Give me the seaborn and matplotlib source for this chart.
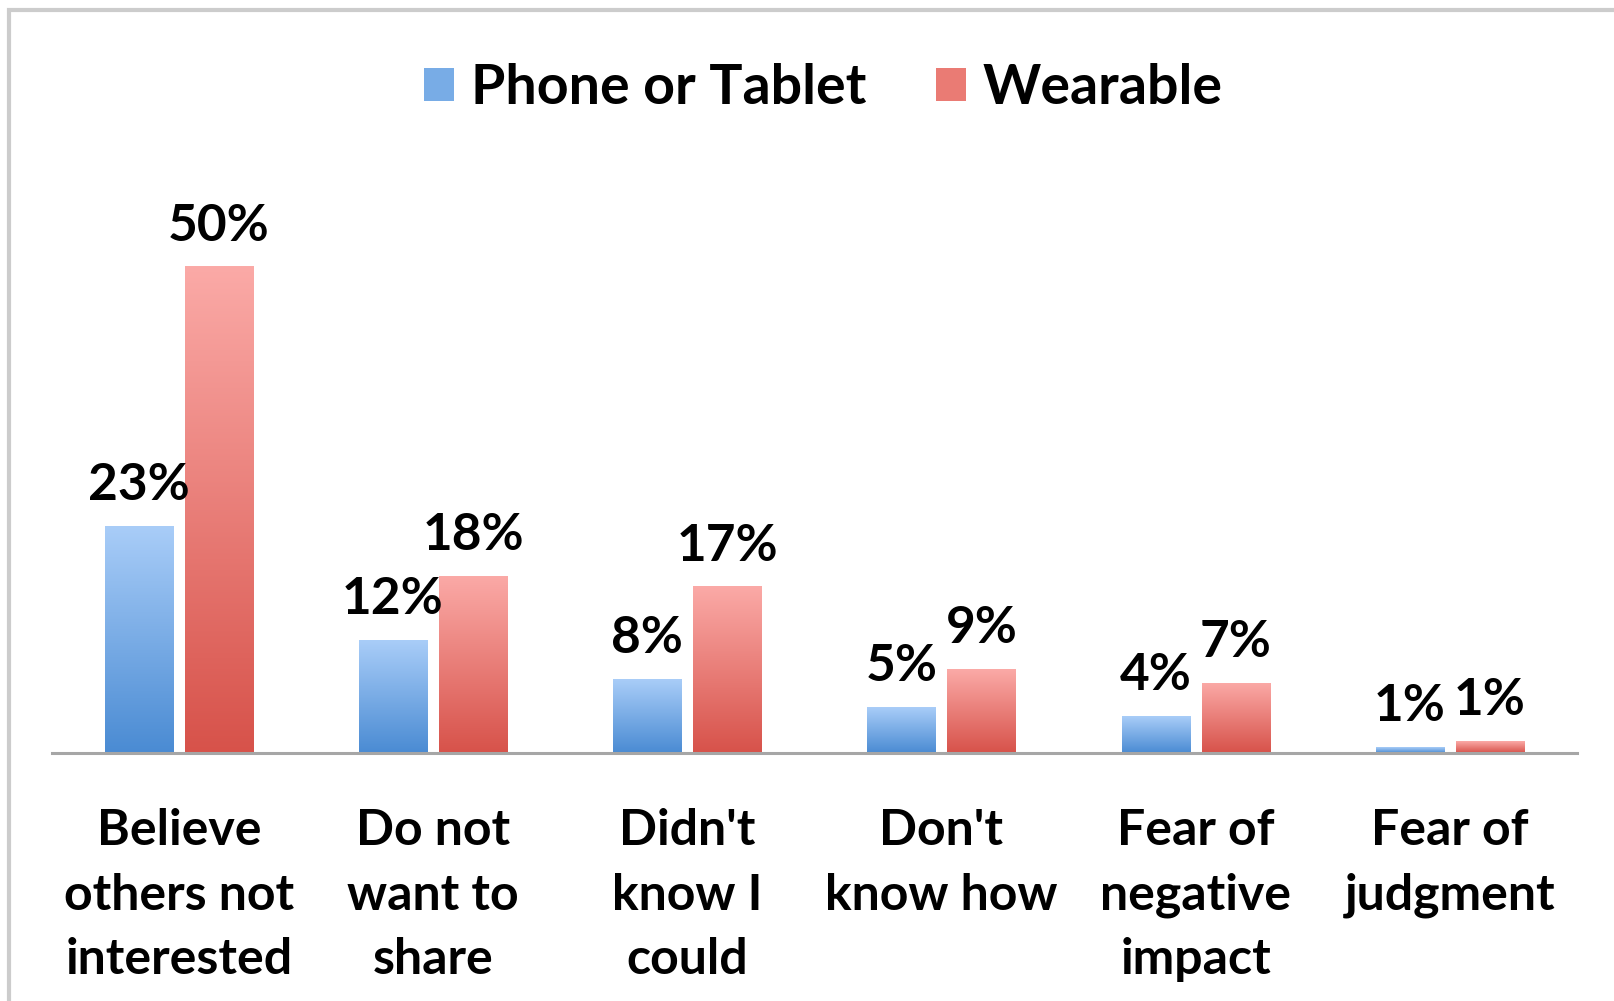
import matplotlib
matplotlib.use("Agg")

import numpy as np
import pandas as pd
import matplotlib.pyplot as plt
import seaborn as sns
from matplotlib.colors import LinearSegmentedColormap
from matplotlib.patches import Patch, Rectangle

# Data
categories = ["Believe\nothers not\ninterested", "Do not\nwant to\nshare",
              "Didn't\nknow I\ncould", "Don't\nknow how",
              "Fear of\nnegative\nimpact", "Fear of\njudgment"]
series = ["Phone or Tablet", "Wearable"]
phone_vals = [23.3, 11.6, 7.6, 4.7, 3.8, 0.6]
wear_vals = [50.0, 18.2, 17.1, 8.6, 7.2, 1.2]

# gradient colours (bottom, top) per series
grad_colors = {"Phone or Tablet": ("#4a8bd3", "#a9cdf8"),
               "Wearable": ("#d7524a", "#fbaaa7")}
legend_colors = {"Phone or Tablet": "#78ace6", "Wearable": "#ea7b74"}

df = pd.DataFrame({
    "category": categories * 2,
    "series": [series[0]] * len(categories) + [series[1]] * len(categories),
    "value": phone_vals + wear_vals,
})

sns.set_style("white")
plt.rcParams["font.family"] = ["Lato", "DejaVu Sans"]
plt.rcParams["font.weight"] = "bold"
plt.rcParams["text.color"] = "black"
plt.rcParams["xtick.color"] = "black"

fig = plt.figure(figsize=(16.14, 10.01), dpi=100)
ax = fig.add_axes([0.032, 0.248, 0.945, 0.583])

palette = {s: grad_colors[s][0] for s in series}
sns.barplot(data=df, x="category", y="value", hue="series", hue_order=series,
            palette=palette, width=0.63, gap=0.15, legend=False, ax=ax,
            saturation=1)

# gradient fill inside each bar
grad = np.linspace(0, 1, 256).reshape(-1, 1)
for cont, s in zip(ax.containers, series):
    cmap = LinearSegmentedColormap.from_list(s, list(grad_colors[s]))
    for bar in cont:
        x0, y0 = bar.get_x(), bar.get_y()
        w, h = bar.get_width(), bar.get_height()
        im = ax.imshow(grad, cmap=cmap, origin="lower", aspect="auto",
                       extent=[x0, x0 + w, y0, y0 + h], zorder=2)
        im.set_clip_path(bar)
        bar.set_facecolor("none")
        bar.set_edgecolor("none")
    ax.bar_label(cont, labels=[f"{round(v)}%" for v in cont.datavalues],
                 padding=12, fontsize=37, fontweight="bold", color="black")

ax.set_xlim(-0.5, len(categories) - 0.5)
ax.set_ylim(0, 60)

sns.despine(ax=ax, left=True, top=True, right=True)
ax.spines["bottom"].set_color("#a6a6a6")
ax.spines["bottom"].set_linewidth(2.2)
ax.set_yticks([])
ax.set_xlabel("")
ax.set_ylabel("")
ax.tick_params(axis="x", length=0, pad=40)
ax.set_xticks(range(len(categories)))
ax.set_xticklabels(categories, fontsize=36, fontweight="bold", linespacing=1.52)

handles = [Patch(facecolor=legend_colors[s], edgecolor="none") for s in series]
fig.legend(handles, series, loc="center", bbox_to_anchor=(0.51, 0.912),
           ncol=2, frameon=False, handlelength=0.55, handleheight=0.55,
           handletextpad=0.3, columnspacing=1.25,
           prop={"weight": "bold", "size": 40})

# light grey frame (top and left edges visible)
fig.add_artist(Rectangle((0.0055, -0.1), 1.2, 1.09, transform=fig.transFigure,
                         fill=False, edgecolor="#cccccc", linewidth=3))

fig.savefig("out.png", dpi=100)
